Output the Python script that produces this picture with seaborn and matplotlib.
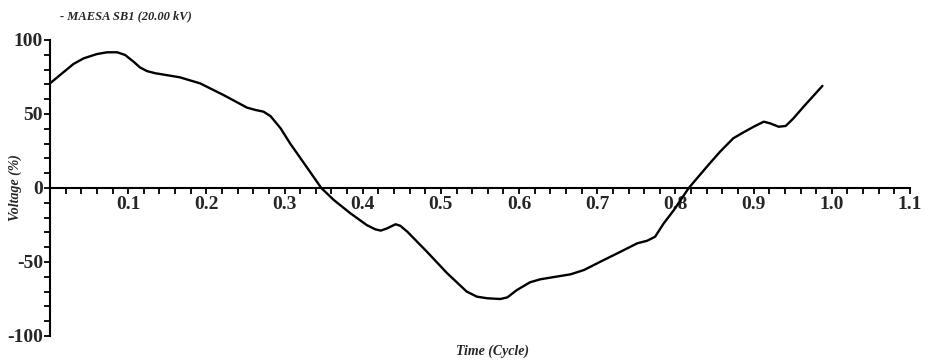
import matplotlib
matplotlib.use("Agg")
import matplotlib.pyplot as plt
import seaborn as sns
import pandas as pd
from matplotlib.ticker import MultipleLocator, FixedLocator

# Voltage waveform at MAESA SB1 over one cycle
time_cycle = [0.0, 0.013, 0.030, 0.043, 0.060, 0.073, 0.086, 0.096, 0.107, 0.115,
              0.124, 0.135, 0.141, 0.166, 0.192, 0.222, 0.252, 0.263, 0.273, 0.282,
              0.295, 0.307, 0.328, 0.347, 0.363, 0.384, 0.405, 0.416, 0.423, 0.431,
              0.442, 0.448, 0.457, 0.482, 0.508, 0.533, 0.546, 0.559, 0.576, 0.585,
              0.597, 0.614, 0.627, 0.666, 0.683, 0.704, 0.730, 0.751, 0.764, 0.774,
              0.785, 0.798, 0.817, 0.842, 0.857, 0.874, 0.885, 0.900, 0.913, 0.921,
              0.932, 0.941, 0.951, 0.964, 0.988]
voltage_pct = [70.7, 76.4, 83.8, 87.6, 90.5, 91.7, 91.7, 89.9, 85.3, 81.5,
               79.0, 77.5, 77.0, 74.8, 70.7, 62.8, 54.3, 52.7, 51.6, 48.6,
               40.3, 30.2, 14.4, 0.0, -8.1, -17.0, -25.0, -27.9, -28.8, -27.3,
               -24.5, -25.5, -29.5, -43.0, -57.6, -70.0, -73.4, -74.5, -75.0, -73.9,
               -69.0, -63.7, -61.7, -58.3, -55.4, -49.8, -43.0, -37.4, -35.6, -32.9,
               -23.9, -14.9, 0.0, 15.5, 24.5, 33.6, 37.0, 41.4, 44.8, 43.7,
               41.4, 41.9, 47.1, 55.0, 69.0]

x_ticks = [0.1, 0.2, 0.3, 0.4, 0.5, 0.6, 0.7, 0.8, 0.9, 1.0, 1.1]
x_tick_labels = ["0.1", "0.2", "0.3", "0.4", "0.5", "0.6", "0.7", "0.8", "0.9", "1.0", "1.1"]
y_ticks = [-100, -50, 0, 50, 100]
y_tick_labels = ["-100", "-50", "0", "50", "100"]

sns.set_theme(style="white")
plt.rcParams["font.family"] = ["Liberation Serif", "DejaVu Serif"]
plt.rcParams["font.weight"] = "bold"

df = pd.DataFrame({"t": time_cycle, "v": voltage_pct})

fig = plt.figure(figsize=(9.25, 3.63), dpi=100)
ax = fig.add_axes([50 / 925, 1 - 336 / 363, (910 - 50) / 925, (336 - 40) / 363])

sns.lineplot(data=df, x="t", y="v", ax=ax, color="black", linewidth=1.7,
             sort=False, solid_joinstyle="round", solid_capstyle="round")

ax.set_xlim(0, 1.1)
ax.set_ylim(-100, 100)

for side in ("top", "right"):
    ax.spines[side].set_visible(False)
ax.spines["bottom"].set_position(("data", 0))
for side in ("left", "bottom"):
    ax.spines[side].set_linewidth(1.5)
    ax.spines[side].set_color("black")

ax.xaxis.set_major_locator(FixedLocator(x_ticks))
ax.set_xticklabels(x_tick_labels)
ax.xaxis.set_minor_locator(MultipleLocator(0.02))
ax.yaxis.set_major_locator(FixedLocator(y_ticks))
ax.set_yticklabels(y_tick_labels)
ax.yaxis.set_minor_locator(MultipleLocator(10))

ax.tick_params(axis="x", which="both", direction="out", length=4, width=1.3,
               color="black", bottom=True, pad=2, labelsize=14)
ax.tick_params(axis="y", which="both", direction="out", length=4, width=1.3,
               color="black", left=True, pad=1, labelsize=14)
for lab in ax.get_xticklabels() + ax.get_yticklabels():
    lab.set_fontweight("bold")

ax.set_xlabel("")
ax.set_ylabel("")
fig.text(15 / 925, 1 - 188 / 363, "Voltage (%)", rotation=90, ha="center", va="center",
         fontsize=10, fontstyle="italic", fontweight="bold")
fig.text(493 / 925, 1 - 351 / 363, "Time (Cycle)", ha="center", va="center",
         fontsize=10, fontstyle="italic", fontweight="bold")
fig.text(60 / 925, 1 - 16 / 363, "- MAESA SB1 (20.00 kV)", ha="left", va="center",
         fontsize=9, fontstyle="italic", fontweight="bold")

fig.savefig("out.png", dpi=100)
